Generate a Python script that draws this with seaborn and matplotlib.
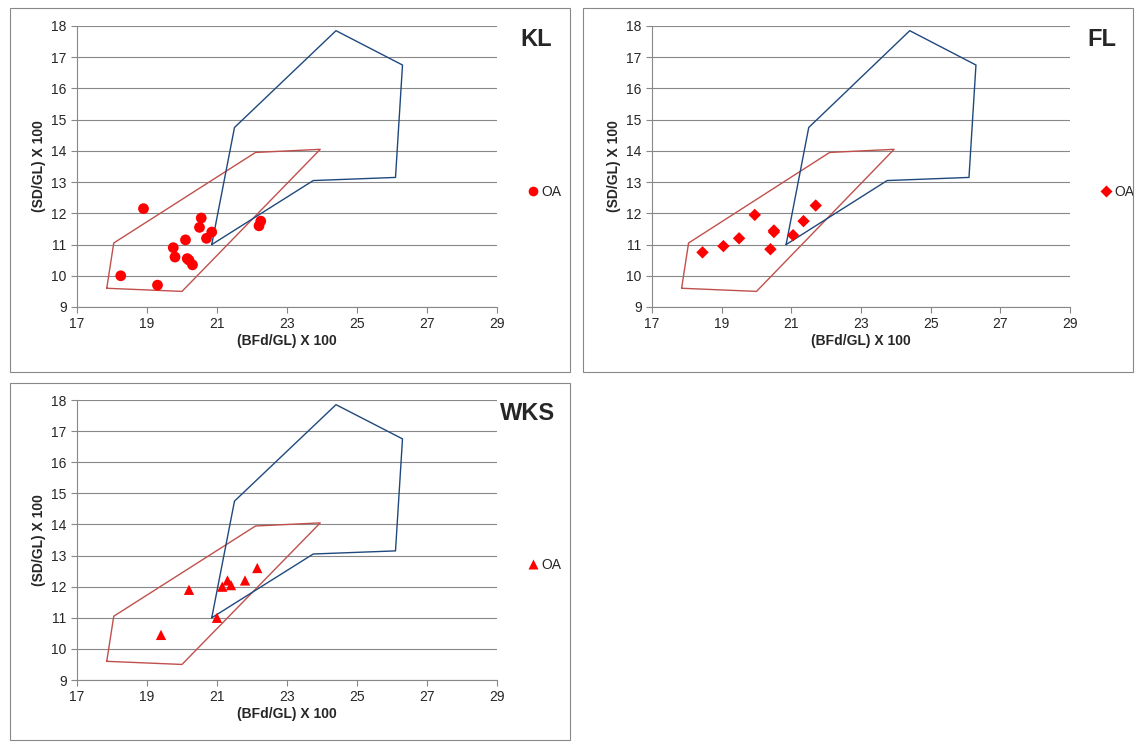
import matplotlib
matplotlib.use("Agg")
import matplotlib.pyplot as plt
import seaborn as sns
import pandas as pd
from matplotlib.patches import Rectangle

sns.set_style("white")
plt.rcParams['font.family'] = ['Liberation Sans', 'DejaVu Sans']

red_x = [17.85, 18.05, 22.1, 23.95, 20.0, 17.85]
red_y = [9.6, 11.05, 13.95, 14.05, 9.5, 9.6]
blue_x = [20.85, 21.5, 24.4, 26.3, 26.1, 23.75, 20.85]
blue_y = [11.0, 14.75, 17.85, 16.75, 13.15, 13.05, 11.0]

kl_x = [18.25, 18.9, 19.3, 19.75, 19.8, 20.1, 20.15, 20.2, 20.3, 20.5, 20.55, 20.7, 20.85, 22.2, 22.25]
kl_y = [10.0, 12.15, 9.7, 10.9, 10.6, 11.15, 10.55, 10.5, 10.35, 11.55, 11.85, 11.2, 11.4, 11.6, 11.75]
fl_x = [18.45, 19.05, 19.5, 19.95, 20.4, 20.5, 20.5, 21.05, 21.35, 21.7]
fl_y = [10.75, 10.95, 11.2, 11.95, 10.85, 11.45, 11.4, 11.3, 11.75, 12.25]
wks_x = [19.4, 20.2, 21.0, 21.15, 21.3, 21.4, 21.8, 22.15]
wks_y = [10.45, 11.9, 11.0, 12.0, 12.2, 12.05, 12.2, 12.6]

W, H = 1135, 743
fig = plt.figure(figsize=(W/100, H/100), dpi=100)

panels = [
    ("KL", kl_x, kl_y, "o", 60, (10, 8, 570, 372), (77, 26, 497, 307), 552, 525),
    ("FL", fl_x, fl_y, "D", 40, (583, 8, 1133, 372), (652, 26, 1070, 307), 1116, 1098),
    ("WKS", wks_x, wks_y, "^", 55, (10, 383, 570, 740), (77, 400, 497, 680), 555, 525),
]
for name, xs, ys, mk, sz, box, ax_px, tx, lx in panels:
    bx0, by0, bx1, by1 = box
    fig.patches.append(Rectangle((bx0/W, 1-by1/H), (bx1-bx0)/W, (by1-by0)/H,
                                 transform=fig.transFigure, fill=False, edgecolor='#888888', lw=0.8))
    x0, y0, x1, y1 = ax_px
    ax = fig.add_axes([x0/W, 1-y1/H, (x1-x0)/W, (y1-y0)/H])
    ax.plot(red_x, red_y, color='#c0504d', lw=1)
    ax.plot(blue_x, blue_y, color='#1f497d', lw=1)
    df = pd.DataFrame({"x": xs, "y": ys, "s": ["OA"]*len(xs)})
    sns.scatterplot(data=df, x="x", y="y", hue="s", palette=["#ff0000"], marker=mk, s=sz,
                    edgecolor="none", ax=ax, zorder=3)
    ax.set_xlim(17, 29); ax.set_ylim(9, 18)
    ax.set_xticks(range(17, 30, 2)); ax.set_yticks(range(9, 19))
    ax.grid(axis='y', color='#888888', lw=0.8)
    ax.set_axisbelow(True)
    for s in ['top', 'right']:
        ax.spines[s].set_visible(False)
    for s in ['left', 'bottom']:
        ax.spines[s].set_color('#888888')
    ax.tick_params(axis='both', labelsize=10, length=4, direction='out', color='#888888', left=True, bottom=True)
    ax.set_xlabel("(BFd/GL) X 100", fontsize=10, fontweight='bold', labelpad=2)
    ax.set_ylabel("(SD/GL) X 100", fontsize=10, fontweight='bold', labelpad=4)
    ax.text(tx/W, 1-(y0+14)/H, name, transform=fig.transFigure, ha='right', va='center', fontsize=17, fontweight='bold')
    ax.legend(loc='center left', bbox_to_anchor=((lx-x0)/(x1-x0), 0.41), frameon=False, fontsize=10,
              handletextpad=0.0, borderpad=0, borderaxespad=0, markerscale=0.9, handlelength=1.2)

fig.savefig("out.png", dpi=100)
